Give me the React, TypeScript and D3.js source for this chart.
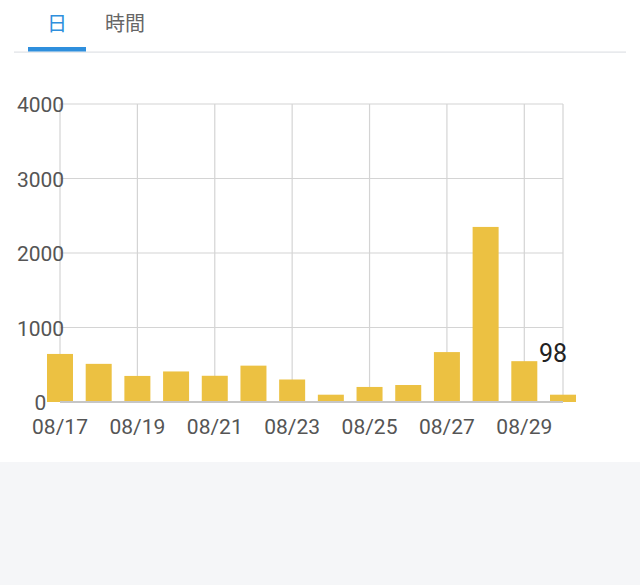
import React from "react";
import * as d3 from "d3";

const categories = ["08/17","08/18","08/19","08/20","08/21","08/22","08/23","08/24","08/25","08/26","08/27","08/28","08/29","08/30"];
const values = [645, 512, 350, 410, 352, 488, 302, 98, 202, 228, 670, 2350, 548, 98];
const xTickLabels = ["08/17","08/19","08/21","08/23","08/25","08/27","08/29"];
const yTicks = [0, 1000, 2000, 3000, 4000];
const tabs = ["日", "時間"];
const highlightLabel = "98";

const W = 640, H = 585;
const plot = { left: 60, right: 563, top: 104, bottom: 402 };

export default function App() {
  const x = d3.scaleLinear().domain([0, categories.length - 1]).range([plot.left, plot.right]);
  const y = d3.scaleLinear().domain([0, 4000]).range([plot.bottom, plot.top]);
  const barW = 26;
  const lastIdx = categories.length - 1;
  return (
    <svg width={W} height={H} style={{ position: "absolute", left: 0, top: 0 }}>
      <rect x={0} y={0} width={W} height={H} fill="#ffffff" />
      <rect x={0} y={462} width={W} height={H - 462} fill="#f5f6f8" />
      {/* tabs */}
      <text x={57} y={22} fill="#2f8fdd" fontSize={20} fontFamily="Noto Sans CJK JP" textAnchor="middle" dominantBaseline="central">{tabs[0]}</text>
      <text x={125} y={22} fill="#666" fontSize={20} fontFamily="Noto Sans CJK JP" textAnchor="middle" dominantBaseline="central">{tabs[1]}</text>
      <rect x={14} y={51.5} width={612} height={1.2} fill="#dfe2e5" />
      <rect x={28} y={47} width={58} height={4.5} fill="#2f8fdd" />
      {/* grid */}
      {yTicks.map((t) => (
        <line key={"gy" + t} x1={plot.left} x2={plot.right} y1={y(t)} y2={y(t)} stroke="#d4d4d4" strokeWidth={1.2} />
      ))}
      {categories.map((c, i) =>
        xTickLabels.includes(c) || i === lastIdx ? (
          <line key={"gx" + c} x1={x(i)} x2={x(i)} y1={plot.top} y2={plot.bottom} stroke="#d4d4d4" strokeWidth={1.2} />
        ) : null
      )}
      {/* bars */}
      {values.map((v, i) => (
        <rect key={"b" + i} x={x(i) - barW / 2} y={y(v)} width={barW} height={y(0) - y(v)} fill="#ecc142" />
      ))}
      <line x1={plot.left} x2={plot.right} y1={plot.bottom} y2={plot.bottom} stroke="#c6c6c6" strokeWidth={2} />
      {/* y labels */}
      {yTicks.map((t) => (
        <text key={"ly" + t} x={40.5} y={y(t) + 1} fill="#555" fontSize={21} fontFamily="Roboto" textAnchor="middle" dominantBaseline="central">{t}</text>
      ))}
      {/* x labels */}
      {categories.map((c, i) =>
        xTickLabels.includes(c) ? (
          <text key={"lx" + c} x={x(i)} y={427} fill="#555" fontSize={21} fontFamily="Roboto" textAnchor="middle" dominantBaseline="central">{c}</text>
        ) : null
      )}
      <text x={553} y={353} fill="#222" fontSize={25} fontFamily="Roboto" textAnchor="middle" dominantBaseline="central">{highlightLabel}</text>
    </svg>
  );
}
